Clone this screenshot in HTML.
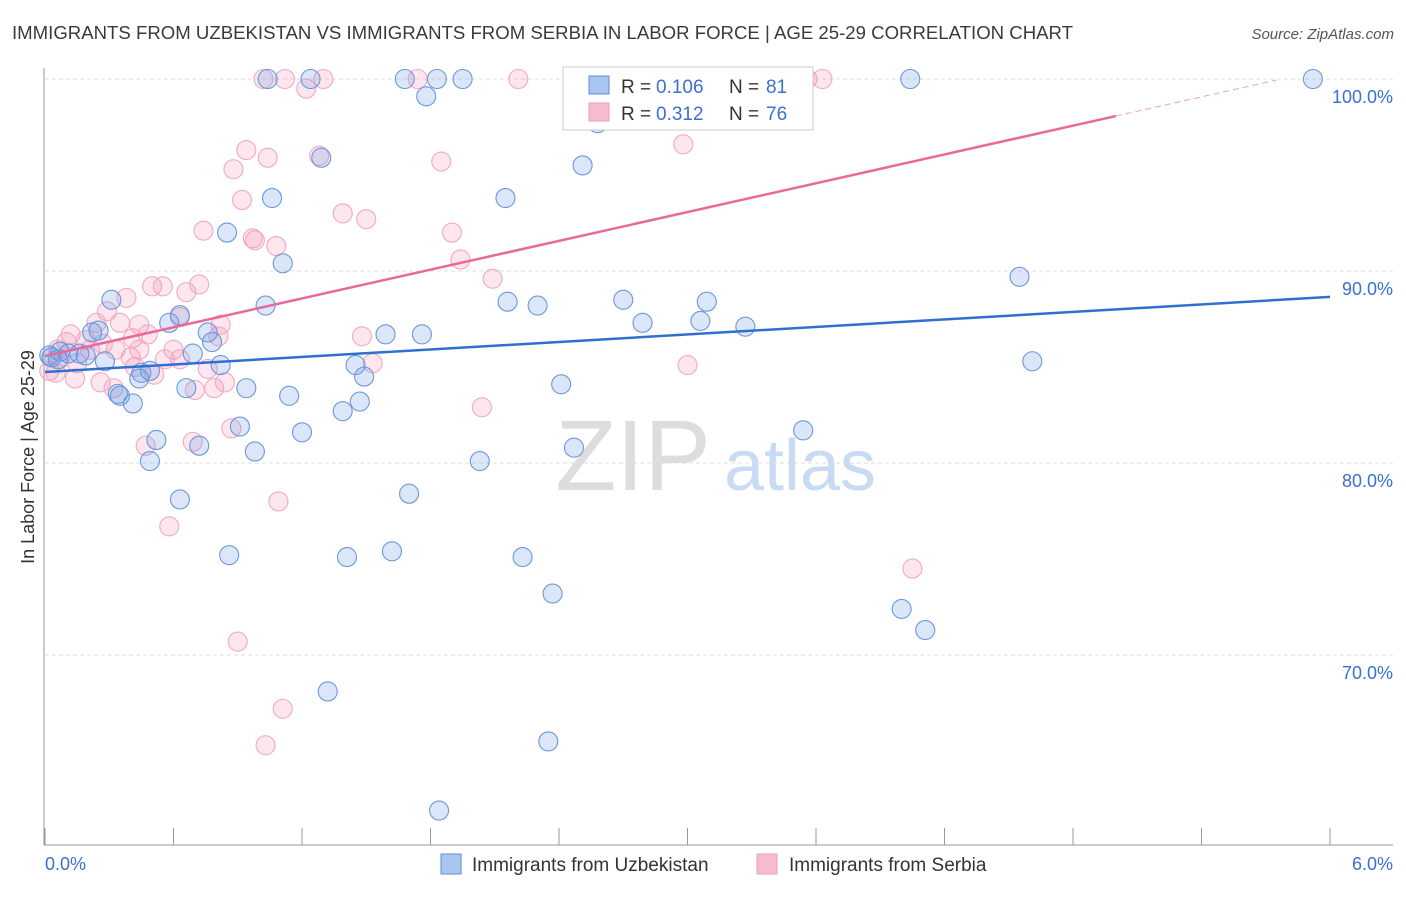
<!DOCTYPE html>
<html><head><meta charset="utf-8"><style>
body{margin:0;background:#fff;font-family:"Liberation Sans",sans-serif;}
svg text{font-family:"Liberation Sans",sans-serif;}
</style></head><body>
<svg id="chart" width="1406" height="892" xmlns="http://www.w3.org/2000/svg">
<text x="12" y="39" font-size="18" fill="#3a3a3a" textLength="1061" lengthAdjust="spacingAndGlyphs">IMMIGRANTS FROM UZBEKISTAN VS IMMIGRANTS FROM SERBIA IN LABOR FORCE | AGE 25-29 CORRELATION CHART</text>
<text x="1394" y="39" font-size="15" fill="#555" text-anchor="end" font-style="italic">Source: ZipAtlas.com</text>
<g>
<text x="633" y="490" font-size="100" fill="#ddd" text-anchor="middle" font-family="Liberation Serif,serif">ZIP</text>
<text x="800" y="490" font-size="72" fill="#c9dbf2" text-anchor="middle">atlas</text>
</g>
<g id="grid"></g>
<g id="axes"></g>
<g id="pts"></g>
<g id="lines"></g>
<text transform="translate(34,457) rotate(-90)" font-size="18" fill="#333" text-anchor="middle">In Labor Force | Age 25-29</text>
<g>
<rect x="563" y="67" width="250" height="63" fill="#fff" stroke="#ccc"/>
<rect x="589" y="76" width="20" height="18" fill="#a9c6f0" stroke="#5b8dd9"/>
<rect x="589" y="103" width="20" height="18" fill="#f7bccd" stroke="#f0a0b8"/>
<text x="621" y="93" font-size="19" fill="#333">R =</text>
<text x="656" y="93" font-size="19" fill="#3b6fd1">0.106</text>
<text x="729" y="93" font-size="19" fill="#333">N =</text>
<text x="766" y="93" font-size="19" fill="#3b6fd1">81</text>
<text x="621" y="120" font-size="19" fill="#333">R =</text>
<text x="656" y="120" font-size="19" fill="#3b6fd1">0.312</text>
<text x="729" y="120" font-size="19" fill="#333">N =</text>
<text x="766" y="120" font-size="19" fill="#3b6fd1">76</text>
</g>
<g>
<rect x="441" y="854" width="20" height="20" fill="#a9c6f0" stroke="#5b8dd9"/>
<text x="472" y="871" font-size="19" fill="#333">Immigrants from Uzbekistan</text>
<rect x="757" y="854" width="20" height="20" fill="#f7bccd" stroke="#f0a0b8"/>
<text x="789" y="871" font-size="19" fill="#333">Immigrants from Serbia</text>
</g>
</svg>
<script>
const blueX=[1.04,1.24,1.68,1.83,1.95,3.13,4.04,5.92,1.78,2.58,2.51,1.29,1.06,2.15,0.85,1.11,4.55,0.31,1.03,0.63,0.58,2.16,2.30,2.70,3.09,3.06,2.79,3.27,0.76,0.78,1.59,1.76,0.22,0.25,0.07,0.11,0.16,0.02,0.28,0.69,0.82,1.45,1.49,4.61,0.45,0.44,0.66,0.94,0.35,0.41,1.14,1.47,1.39,2.41,0.91,1.20,0.52,0.72,0.98,0.49,2.03,3.54,2.47,0.63,1.70,0.86,1.41,1.62,2.23,2.37,4.00,4.11,1.32,2.35,1.84,0.03,0.06,0.19,0.49,0.34];
const blueY=[100,100,100,100,100,100,100,100,99.1,97.7,95.5,95.9,93.8,93.8,92.0,90.4,89.7,88.5,88.2,87.7,87.3,88.4,88.2,88.5,88.4,87.4,87.3,87.1,86.8,86.3,86.7,86.7,86.8,86.9,85.8,85.7,85.7,85.6,85.3,85.7,85.1,85.1,84.5,85.3,84.7,84.4,83.9,83.9,83.5,83.1,83.5,83.2,82.7,84.1,81.9,81.6,81.2,80.9,80.6,80.1,80.1,81.7,80.8,78.1,78.4,75.2,75.1,75.4,75.1,73.2,72.4,71.3,68.1,65.5,61.9,85.5,85.4,85.6,84.8,83.6];
const pinkX=[1.02,1.12,1.30,1.74,2.21,3.56,3.63,1.22,2.98,1.28,0.94,1.04,1.85,0.88,0.92,1.39,1.50,0.74,0.97,0.98,1.08,1.90,1.94,2.09,0.50,0.55,0.66,0.72,0.38,0.29,0.63,0.82,0.24,0.35,0.44,0.48,0.12,0.19,0.33,0.60,0.41,0.81,1.48,0.10,0.06,0.15,0.56,0.63,1.53,3.00,0.42,0.51,0.76,0.14,0.26,0.32,0.70,0.79,0.84,2.04,0.47,0.69,0.87,1.09,0.58,4.05,0.90,1.11,1.03,0.02,0.07,0.21,0.27,0.40,0.44,0.05];
const pinkY=[100,100,100,100,100,100,100,99.5,96.6,96.0,96.3,95.9,95.7,95.3,93.7,93.0,92.7,92.1,91.7,91.6,91.3,92.0,90.6,89.6,89.2,89.2,88.9,89.3,88.6,87.9,87.6,87.2,87.3,87.3,87.2,86.7,86.7,86.4,85.9,85.9,86.5,86.6,86.6,86.3,85.9,85.2,85.4,85.4,85.2,85.1,85.0,84.6,84.9,84.4,84.2,83.9,83.8,83.9,84.2,82.9,80.9,81.1,81.8,78.0,76.7,74.5,70.7,67.2,65.3,84.8,85.4,85.9,86.2,85.5,85.9,84.7];
const blueTrend=[84.74,88.65];   // y at x=0 and x=6
const pinkTrend=[85.57,98.07];   // y at x=0 and x=5
const yTicks=[100,90,80,70];
const xTicks=[0,0.6,1.2,1.8,2.4,3.0,3.6,4.2,4.8,5.4,6.0];
const NS="http://www.w3.org/2000/svg";
const sx=v=>45+v*214.17, sy=v=>79+(100-v)*19.2;
function mk(t,a,p){const e=document.createElementNS(NS,t);for(const k in a)e.setAttribute(k,a[k]);p.appendChild(e);return e;}
const grid=document.getElementById('grid'),axes=document.getElementById('axes'),pts=document.getElementById('pts'),lines=document.getElementById('lines');
yTicks.forEach(v=>{
 const l=mk('line',{x1:45,x2:1393,y1:sy(v),y2:sy(v),stroke:'#ddd','stroke-dasharray':'4,3'},grid);
 
 
 const t=mk('text',{x:1393,y:sy(v)+24,'font-size':18,fill:'#3b6fd1','text-anchor':'end'},grid);
 t.textContent=v.toFixed(1)+'%';
 
 
});
const ax=mk('line',{x1:44,x2:44,y1:68,y2:845,stroke:'#999'},axes);


const bx=mk('line',{x1:44,x2:1393,y1:845,y2:845,stroke:'#999'},axes);


xTicks.forEach(v=>{
 const t=mk('line',{x1:sx(v),x2:sx(v),y1:828,y2:845,stroke:'#999'},axes);
 
 
});
[[0,'start'],[6,'end']].forEach(([v,a])=>{
 const t=mk('text',{x:v===0?45:1393,y:870,'font-size':18,fill:'#3b6fd1','text-anchor':a},axes);
 t.textContent=v.toFixed(1)+'%';
 
 
});
pinkX.forEach((x,i)=>{
 const c=mk('circle',{cx:sx(x),cy:sy(pinkY[i]),r:9.5,fill:'rgba(244,143,177,0.22)',stroke:'#f2aac0','stroke-width':1.1},pts);
 
 
});
blueX.forEach((x,i)=>{
 const c=mk('circle',{cx:sx(x),cy:sy(blueY[i]),r:9.5,fill:'rgba(110,155,230,0.25)',stroke:'#6a98dc','stroke-width':1.1},pts);
 
 
});
const bl=mk('line',{x1:sx(0),y1:sy(blueTrend[0]),x2:sx(6),y2:sy(blueTrend[1]),stroke:'#2f6fd0','stroke-width':2.5},lines);


const ps=(pinkTrend[1]-pinkTrend[0])/5;
const pl=mk('line',{x1:sx(0),y1:sy(pinkTrend[0]),x2:sx(5),y2:sy(pinkTrend[1]),stroke:'#e8699a','stroke-width':2.5},lines);


const pd=mk('line',{x1:sx(5),y1:sy(pinkTrend[1]),x2:sx(5.75),y2:sy(pinkTrend[0]+ps*5.75),stroke:'#e8a0b8','stroke-width':1,'stroke-dasharray':'6,4'},lines);


</script>
</body></html>
